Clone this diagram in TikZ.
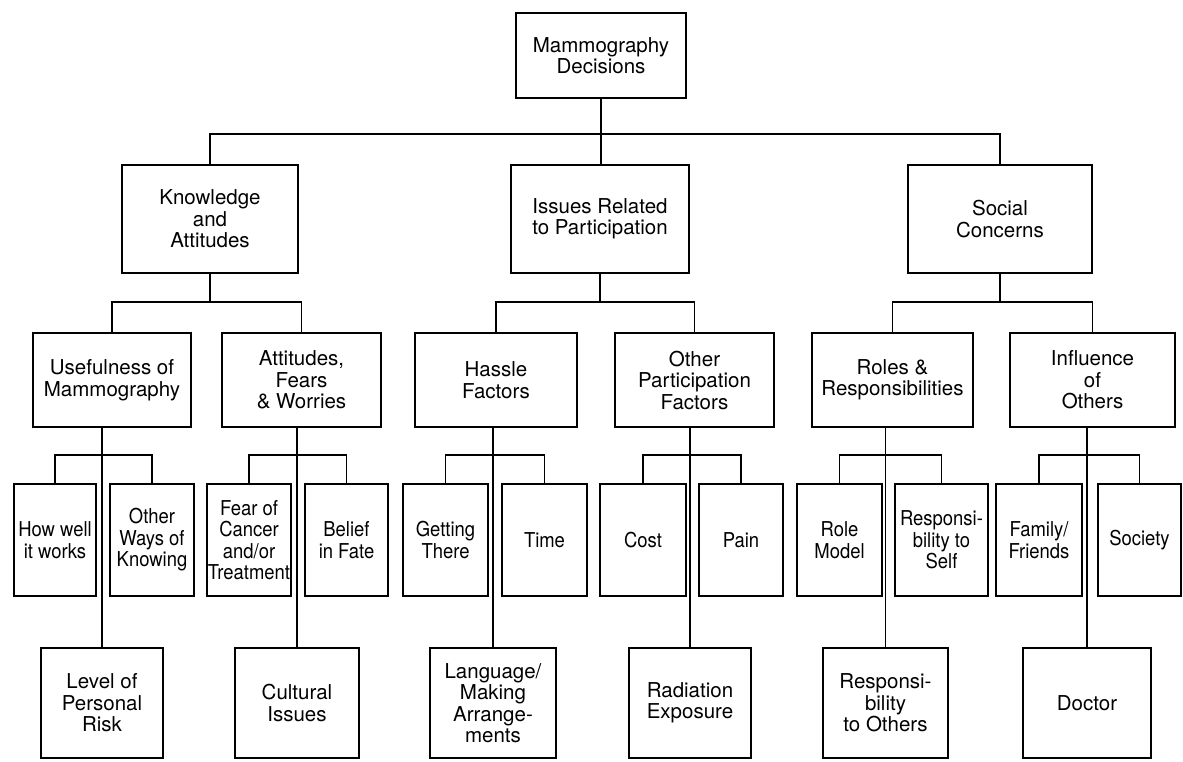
\documentclass[tikz,border=0pt]{standalone}
\usepackage{fontspec}
\setmainfont{TeX Gyre Heros}
\newfontfamily\narrowfont[FakeStretch=0.9]{TeX Gyre Heros}

\begin{document}
\begin{tikzpicture}[x=1pt,y=-1pt,
  box/.style={draw,line width=2.2pt,inner sep=0pt,align=center,font=\fontsize{20.5}{21.5}\selectfont},
  leaf/.style={box,font=\narrowfont\fontsize{20.5}{21.5}\selectfont},
  link/.style={line width=1.6pt}]
\useasboundingbox (0,0) rectangle (1183,762);
\coordinate (lv1) at (600,134);
\coordinate (lv2) at (0,302);
\coordinate (lv3) at (0,455);

\node[box,minimum width=170pt,minimum height=85pt] (root) at (601,55.5) {Mammography\\Decisions};

\node[box,minimum width=176pt,minimum height=108pt] (know) at (210,219) {Knowledge\\and\\Attitudes};
\node[box,minimum width=178pt,minimum height=108pt] (issues) at (600,219) {Issues Related\\to Participation};
\node[box,minimum width=184pt,minimum height=108pt] (social) at (1000,219) {Social\\Concerns};

\node[box,minimum width=158pt,minimum height=94pt] (use) at (112,380) {Usefulness of\\Mammography};
\node[box,minimum width=159pt,minimum height=94pt] (att) at (301.5,380) {Attitudes,\\Fears\\\& Worries};
\node[box,minimum width=162pt,minimum height=94pt] (hassle) at (496,380) {Hassle\\Factors};
\node[box,minimum width=159pt,minimum height=94pt] (otherp) at (694.5,380) {Other\\Participation\\Factors};
\node[box,minimum width=161pt,minimum height=94pt] (roles) at (892.5,380) {Roles \&\\Responsibilities};
\node[box,minimum width=165pt,minimum height=94pt] (infl) at (1092.5,380) {Influence\\of\\Others};

\node[leaf,minimum width=82pt,minimum height=112pt] (how) at (55,540) {How well\\it works};
\node[leaf,minimum width=84pt,minimum height=112pt] (ways) at (152,540) {Other\\Ways of\\Knowing};
\node[leaf,minimum width=84pt,minimum height=112pt] (fear) at (249,540) {Fear of\\Cancer\\and/or\\Treatment};
\node[leaf,minimum width=83pt,minimum height=112pt] (belief) at (346.5,540) {Belief\\in Fate};
\node[leaf,minimum width=85pt,minimum height=112pt] (getting) at (445.5,540) {Getting\\There};
\node[leaf,minimum width=85pt,minimum height=112pt] (time) at (544.5,540) {Time};
\node[leaf,minimum width=86pt,minimum height=112pt] (cost) at (643,540) {Cost};
\node[leaf,minimum width=84pt,minimum height=112pt] (pain) at (741,540) {Pain};
\node[leaf,minimum width=85pt,minimum height=112pt] (role) at (839.5,540) {Role\\Model};
\node[leaf,minimum width=93pt,minimum height=112pt] (self) at (941.5,540) {Responsi-\\bility to\\Self};
\node[leaf,minimum width=86pt,minimum height=112pt] (family) at (1039,540) {Family/\\Friends};
\node[leaf,minimum width=83pt,minimum height=112pt] (society) at (1139.5,540) {Society};

\node[box,minimum width=122pt,minimum height=110pt] (risk) at (102,703) {Level of\\Personal\\Risk};
\node[box,minimum width=124pt,minimum height=110pt] (cultural) at (297,703) {Cultural\\Issues};
\node[box,minimum width=126pt,minimum height=110pt] (lang) at (493,703) {Language/\\Making\\Arrange-\\ments};
\node[box,minimum width=122pt,minimum height=110pt] (rad) at (690,703) {Radiation\\Exposure};
\node[box,minimum width=125pt,minimum height=110pt] (others) at (885.5,703) {Responsi-\\bility\\to Others};
\node[box,minimum width=128pt,minimum height=110pt] (doctor) at (1087,703) {Doctor};

\draw[link] (root.south) -- (root.south |- issues.north);
\draw[link] (know.north) |- (lv1) -| (social.north);

\draw[link] (know.south) -- (lv2 -| know.south);
\draw[link] (use.north) |- (lv2 -| know.south) -| (att.north);
\draw[link] (issues.south) -- (lv2 -| issues.south);
\draw[link] (hassle.north) |- (lv2 -| issues.south) -| (otherp.north);
\draw[link] (social.south) -- (lv2 -| social.south);
\draw[link] (roles.north) |- (lv2 -| social.south) -| (infl.north);

\draw[link] (how.north) |- (lv3 -| risk.north) -| (ways.north);
\draw[link] (use.south -| risk.north) -- (risk.north);
\draw[link] (fear.north) |- (lv3 -| cultural.north) -| (belief.north);
\draw[link] (att.south -| cultural.north) -- (cultural.north);
\draw[link] (getting.north) |- (lv3 -| lang.north) -| (time.north);
\draw[link] (hassle.south -| lang.north) -- (lang.north);
\draw[link] (cost.north) |- (lv3 -| rad.north) -| (pain.north);
\draw[link] (otherp.south -| rad.north) -- (rad.north);
\draw[link] (role.north) |- (lv3 -| others.north) -| (self.north);
\draw[link] (roles.south -| others.north) -- (others.north);
\draw[link] (family.north) |- (lv3 -| doctor.north) -| (society.north);
\draw[link] (infl.south -| doctor.north) -- (doctor.north);
\end{tikzpicture}
\end{document}
